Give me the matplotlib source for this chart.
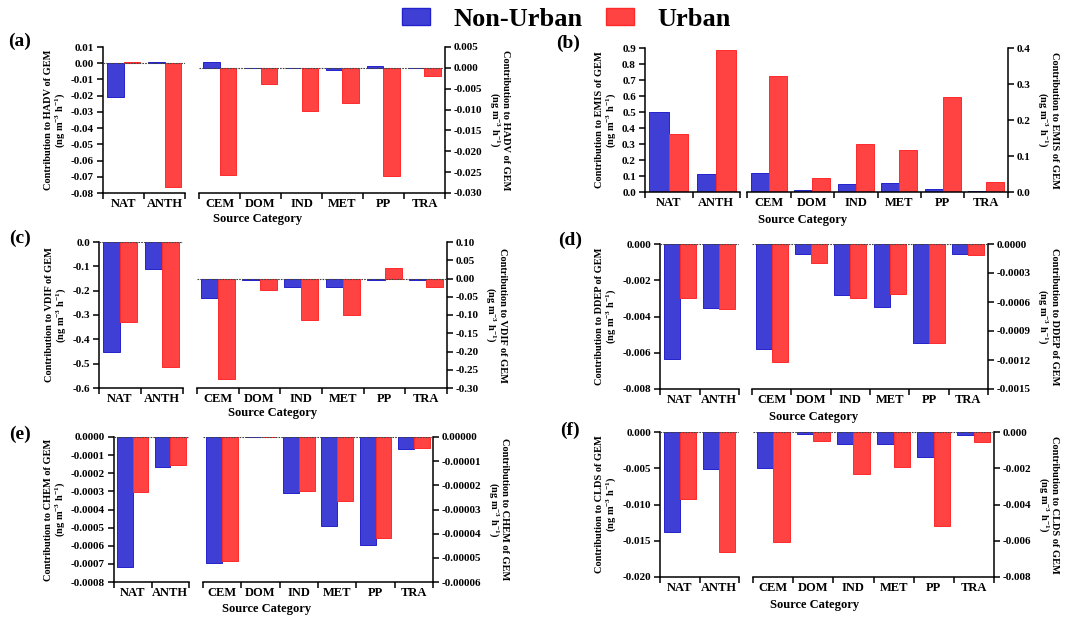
import numpy as np
import matplotlib
matplotlib.use('Agg')
import matplotlib.pyplot as plt
from matplotlib.patches import Patch
from matplotlib.ticker import FuncFormatter, FixedLocator

plt.rcParams['font.family'] = ['Liberation Serif', 'DejaVu Serif']
plt.rcParams['font.weight'] = 'bold'
plt.rcParams['axes.unicode_minus'] = False
plt.rcParams['mathtext.default'] = 'regular'

main_cats = ['NAT', 'ANTH']
sect_cats = ['CEM', 'DOM', 'IND', 'MET', 'PP', 'TRA']

# (a) HADV
hadv_main_nonurban = [-0.021, 0.001]
hadv_main_urban = [0.0005, -0.076]
hadv_sect_nonurban = [0.0013, -0.0001, -0.0001, -0.0005, 0.0004, -0.0001]
hadv_sect_urban = [-0.0256, -0.0039, -0.0104, -0.0084, -0.026, -0.0019]

# (b) EMIS
emis_main_nonurban = [0.50, 0.11]
emis_main_urban = [0.36, 0.89]
emis_sect_nonurban = [0.053, 0.005, 0.022, 0.024, 0.007, 0.003]
emis_sect_urban = [0.321, 0.039, 0.133, 0.118, 0.264, 0.028]

# (c) VDIF
vdif_main_nonurban = [-0.451, -0.111]
vdif_main_urban = [-0.33, -0.513]
vdif_sect_nonurban = [-0.054, -0.005, -0.022, -0.022, -0.004, -0.004]
vdif_sect_urban = [-0.276, -0.031, -0.114, -0.099, 0.030, -0.022]

# (d) DDEP
ddep_main_nonurban = [-0.00634, -0.00353]
ddep_main_urban = [-0.0030, -0.00357]
ddep_sect_nonurban = [-0.00109, -0.0001, -0.00053, -0.00065, -0.00102, -0.000103]
ddep_sect_urban = [-0.00122, -0.000193, -0.00056, -0.00052, -0.00102, -0.000114]

# (e) CHEM
chem_main_nonurban = [-0.000718, -0.000167]
chem_main_urban = [-0.000304, -0.000152]
chem_sect_nonurban = [-5.2e-5, -2e-7, -2.33e-5, -3.68e-5, -4.46e-5, -5.1e-6]
chem_sect_urban = [-5.15e-5, -2e-7, -2.24e-5, -2.65e-5, -4.17e-5, -4.5e-6]

# (f) CLDS
clds_main_nonurban = [-0.0138, -0.0051]
clds_main_urban = [-0.0092, -0.0166]
clds_sect_nonurban = [-0.00201, -0.00011, -0.00068, -0.00065, -0.0014, -0.00015]
clds_sect_urban = [-0.00608, -0.0005, -0.00229, -0.00192, -0.00519, -0.00054]

BLUE, BLUE_EDGE = '#3f3fd6', '#2323cc'
RED, RED_EDGE = '#ff4242', '#ff2a2a'
W, H = 1081, 621


def rect(x0, x1, y0, y1):
    return [x0 / W, 1 - y1 / H, (x1 - x0) / W, (y1 - y0) / H]


def style_axis(ax, cats, nonurban, urban, ylim, step, fmt, side):
    x = np.arange(len(cats))
    bw = 0.41
    ax.bar(x - bw / 2, nonurban, bw, color=BLUE, edgecolor=BLUE_EDGE, linewidth=0.7)
    ax.bar(x + bw / 2, urban, bw, color=RED, edgecolor=RED_EDGE, linewidth=0.7)
    ax.axhline(0, color='#444444', lw=0.8, ls=(0, (1.5, 1)), zorder=3)
    ax.set_xlim(-0.5, len(cats) - 0.5)
    ax.set_ylim(*ylim)
    ticks = np.round(np.arange(ylim[0], ylim[1] + step / 2, step), 10) + 0.0
    ax.yaxis.set_major_locator(FixedLocator(ticks))
    ax.yaxis.set_major_formatter(FuncFormatter(lambda v, p: fmt % (round(v, 10) + 0.0)))
    ax.set_xticks(x)
    ax.set_xticklabels(cats, fontsize=9, fontweight='bold')
    ax.set_xticks(np.arange(len(cats) + 1) - 0.5, minor=True)
    ax.tick_params(axis='x', which='major', length=0, pad=3.5)
    ax.tick_params(axis='x', which='minor', length=4, width=1.1, direction='out')
    ax.tick_params(axis='y', length=4, width=1.1, labelsize=8, pad=2.5)
    for lab in ax.get_yticklabels():
        lab.set_fontweight('bold')
    ax.spines['top'].set_visible(False)
    for s in ax.spines.values():
        s.set_linewidth(1.1)
    if side == 'left':
        ax.spines['right'].set_visible(False)
    else:
        ax.spines['left'].set_visible(False)
        ax.yaxis.tick_right()
        ax.yaxis.set_label_position('right')


def draw_panel(letter, name, lrect, rrect, main_nu, main_u, sect_nu, sect_u,
               lylim, lstep, lfmt, rylim, rstep, rfmt, letter_pos, sc_pos):
    axl = fig.add_axes(lrect)
    axr = fig.add_axes(rrect)
    style_axis(axl, main_cats, main_nu, main_u, lylim, lstep, lfmt, 'left')
    style_axis(axr, sect_cats, sect_nu, sect_u, rylim, rstep, rfmt, 'right')
    label = f'Contribution to {name} of GEM\n(ng m$^{{-3}}$ h$^{{-1}}$)'
    axl.set_ylabel(label, fontsize=7.5, fontweight='bold', labelpad=3, linespacing=1.0)
    axr.set_ylabel(label, fontsize=7.5, fontweight='bold', rotation=270,
                   labelpad=20, linespacing=1.0)
    fig.text(letter_pos[0] / W, 1 - letter_pos[1] / H, f'({letter})',
             fontsize=14, fontweight='bold', ha='center', va='center')
    fig.text(sc_pos[0] / W, 1 - sc_pos[1] / H, 'Source Category',
             fontsize=9, fontweight='bold', ha='center', va='center')


fig = plt.figure(figsize=(W / 100, H / 100), dpi=100)

draw_panel('a', 'HADV', rect(103, 185, 47, 193), rect(199, 445, 47, 193),
           hadv_main_nonurban, hadv_main_urban, hadv_sect_nonurban, hadv_sect_urban,
           (-0.08, 0.01), 0.01, '%.2f', (-0.030, 0.005), 0.005, '%.3f',
           (20, 41), (258, 219))
draw_panel('b', 'EMIS', rect(645, 740, 48, 192), rect(747, 1008, 48, 192),
           emis_main_nonurban, emis_main_urban, emis_sect_nonurban, emis_sect_urban,
           (0.0, 0.9), 0.1, '%.1f', (0.0, 0.4), 0.1, '%.1f',
           (568, 43), (803, 220))
draw_panel('c', 'VDIF', rect(99, 183, 242, 388), rect(197, 447, 242, 388),
           vdif_main_nonurban, vdif_main_urban, vdif_sect_nonurban, vdif_sect_urban,
           (-0.6, 0.0), 0.1, '%.1f', (-0.30, 0.10), 0.05, '%.2f',
           (20, 238), (273, 413))
draw_panel('d', 'DDEP', rect(660, 739, 244, 389), rect(752, 988, 244, 389),
           ddep_main_nonurban, ddep_main_urban, ddep_sect_nonurban, ddep_sect_urban,
           (-0.008, 0.0), 0.002, '%.3f', (-0.0015, 0.0), 0.0003, '%.4f',
           (570, 240), (814, 417))
draw_panel('e', 'CHEM', rect(114, 189, 437, 582), rect(203, 433, 437, 582),
           chem_main_nonurban, chem_main_urban, chem_sect_nonurban, chem_sect_urban,
           (-0.0008, 0.0), 0.0001, '%.4f', (-0.00006, 0.0), 0.00001, '%.5f',
           (20, 434), (267, 609))
draw_panel('f', 'CLDS', rect(660, 739, 432, 577), rect(753, 994, 432, 577),
           clds_main_nonurban, clds_main_urban, clds_sect_nonurban, clds_sect_urban,
           (-0.020, 0.0), 0.005, '%.3f', (-0.008, 0.0), 0.002, '%.3f',
           (570, 430), (815, 605))

handles = [Patch(facecolor=BLUE, edgecolor=BLUE_EDGE, label='Non-Urban'),
           Patch(facecolor=RED, edgecolor=RED_EDGE, label='Urban')]
fig.legend(handles=handles, loc='center', bbox_to_anchor=(0.524, 0.969), ncol=2,
           frameon=False, prop={'size': 19, 'weight': 'bold'},
           handlelength=1.05, handleheight=0.6, handletextpad=0.9, columnspacing=0.9)

fig.savefig('out.png', dpi=100)
